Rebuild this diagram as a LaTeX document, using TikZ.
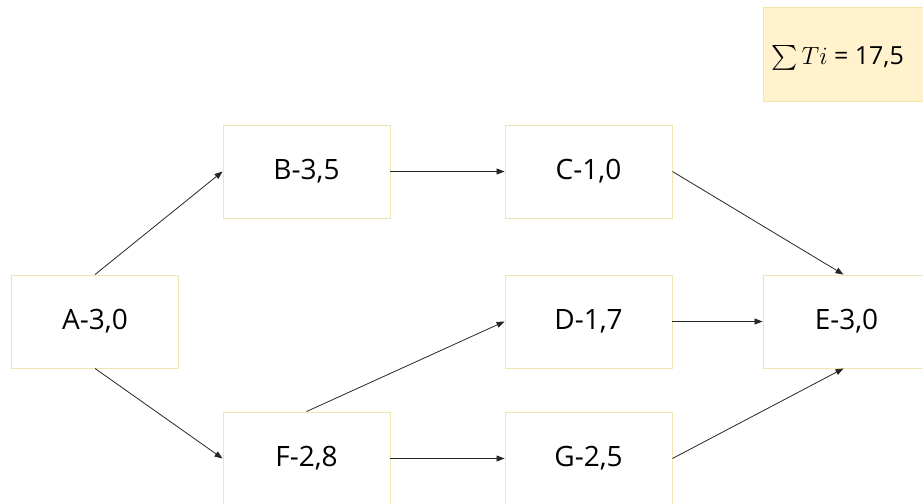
\documentclass[tikz,border=0pt]{standalone}
\usepackage{exscale}
\usepackage{fontspec}
\setmainfont{Open Sans}
\usetikzlibrary{arrows.meta}
\definecolor{boxline}{HTML}{EEE6B4}
\definecolor{sumfill}{HTML}{FFF2CC}
\definecolor{sumline}{HTML}{F3E3A6}
\begin{document}
\begin{tikzpicture}[x=1pt,y=-1pt,
  task/.style={draw=boxline,line width=0.9pt,fill=white,minimum width=167pt,minimum height=93pt,inner sep=0pt,font=\fontsize{28}{32}\selectfont},
  link/.style={draw=black!85,line width=0.8pt,-{Triangle[length=8pt,width=6pt]}}]
\useasboundingbox (0,0) rectangle (923,503);
\begin{scope}
\clip (0,0) rectangle (923,503);
\node[draw=sumline,line width=0.9pt,fill=sumfill,minimum width=170pt,minimum height=94pt,inner sep=0pt,anchor=north west] (sum) at (763,7) {};
\node[anchor=west,inner sep=0pt,font=\fontsize{25}{30}\selectfont] (sumtext) at (771,58) {$\textstyle\sum Ti$ = 17,5};
\node[task] (A) at (95,321.5) {A-3,0};
\node[task] (B) at (306.5,171.5) {B-3,5};
\node[task] (C) at (588.5,171.5) {C-1,0};
\node[task] (D) at (588.5,321.5) {D-1,7};
\node[task] (E) at (846.5,321.5) {E-3,0};
\node[task] (F) at (306.5,458.5) {F-2,8};
\node[task] (G) at (588.5,458.5) {G-2,5};
\end{scope}
\draw[link] (A.north) -- (B.west);
\draw[link] (A.south) -- (F.west);
\draw[link] (B.east) -- (C.west);
\draw[link] (C.east) -- ([xshift=-3pt]E.north);
\draw[link] (D.east) -- (E.west);
\draw[link] (F.north) -- (D.west);
\draw[link] (F.east) -- (G.west);
\draw[link] (G.east) -- ([xshift=-3pt]E.south);
\end{tikzpicture}
\end{document}
